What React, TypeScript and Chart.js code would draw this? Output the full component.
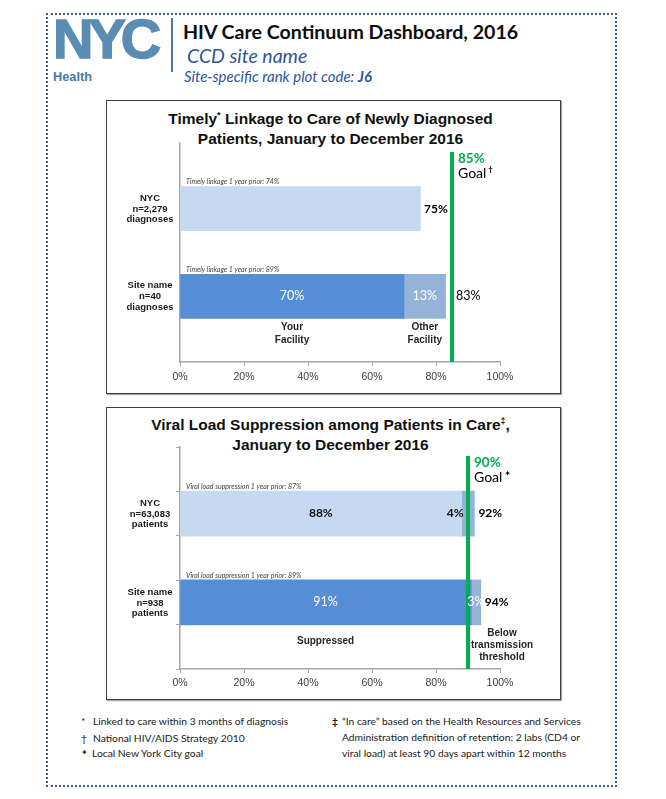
import React, { useEffect, useRef } from 'react';
import { Chart, registerables } from 'chart.js';
Chart.register(...registerables);

// ---------------- data ----------------
const xTickValues = [0, 20, 40, 60, 80, 100];
const rowPositions = [0, 1];
const yBoundaryTicks = [-0.75, -0.25, 0.25, 0.75, 1.25, 1.75];

// Chart 1: Timely linkage to care
const linkageRowLabels = [['NYC', 'n=2,279', 'diagnoses'], ['Site name', 'n=40', 'diagnoses']];
const linkageYourFacility = [75, 70];
const linkageOtherFacility = [0, 13];
const linkageTotals = [75, 83];
const linkagePriorYear = [74, 89];
const linkageGoal = 85;
const linkageSegmentNames = [['Your', 'Facility'], ['Other', 'Facility']];

// Chart 2: Viral load suppression
const suppressionRowLabels = [['NYC', 'n=63,083', 'patients'], ['Site name', 'n=938', 'patients']];
const suppressionSuppressed = [88, 91];
const suppressionBelowThreshold = [4, 3];
const suppressionTotals = [92, 94];
const suppressionPriorYear = [87, 89];
const suppressionGoal = 90;
const suppressionSegmentNames = [['Suppressed'], ['Below', 'transmission', 'threshold']];

// ---------------- styles ----------------
const GREEN = '#00b050';
const LIGHT = '#c6d9f1';
const DARK = '#558ed5';
const MID = '#95b3d7';
const AXIS = '#a6a6a6';
const BLUE_TEXT = '#2f5597';
const CAL = 'Lato, "Open Sans", sans-serif';
const ARIAL = '"Liberation Sans", Arial, sans-serif';

type SegName = { lines: string[]; at: 'seg1' | 'seg2' | 'end'; dy: number; lh: number };
type Spec = {
  rowLabels: string[][];
  seg1: number[];
  seg2: number[];
  totals: number[];
  prior: number[];
  priorText: string;
  goal: number;
  goalMark: string;
  seg1Colors: string[];
  seg2Colors: string[];
  innerFirstRow: boolean;
  totalBold: boolean[];
  segNames: SegName[];
  barThickness: number;
  yTickMarks: boolean;
  xAxisHeight: number;
  topPad: number;
  tickPadding: number;
};

const annotationPlugin = {
  id: 'annotations',
  afterDatasetsDraw(chart: any, _args: any, opts: any) {
    const spec: Spec = opts.spec;
    const { ctx, chartArea } = chart;
    const x = chart.scales.x;
    const y = chart.scales.y;
    ctx.save();
    const gx = x.getPixelForValue(spec.goal);
    ctx.strokeStyle = GREEN;
    ctx.lineWidth = 4;
    ctx.beginPath();
    ctx.moveTo(gx, chartArea.top + 9);
    ctx.lineTo(gx, chartArea.bottom);
    ctx.stroke();

    ctx.textBaseline = 'middle';
    ctx.textAlign = 'left';
    ctx.fillStyle = GREEN;
    ctx.font = `bold 13.5px ${CAL}`;
    ctx.fillText(`${spec.goal}%`, gx + 6, chartArea.top + 15.5);
    ctx.fillStyle = '#000';
    ctx.font = `14px ${CAL}`;
    ctx.fillText('Goal', gx + 6, chartArea.top + 30.5);
    const gw = ctx.measureText('Goal').width;
    ctx.font = `bold 8px ${CAL}, "DejaVu Sans"`;
    ctx.fillText(spec.goalMark, gx + 6 + gw + 2, chartArea.top + 26);

    const half = spec.barThickness / 2;
    const lastIdx = rowPositions.length - 1;
    rowPositions.forEach((row, i) => {
      const cy = y.getPixelForValue(row);
      ctx.fillStyle = '#1a1a1a';
      ctx.font = `bold 9.5px ${ARIAL}`;
      ctx.textAlign = 'center';
      const offs = [-10.5, 0.5, 11];
      spec.rowLabels[i].forEach((t, k) => ctx.fillText(t, chartArea.left - 30, cy + offs[k]));

      ctx.font = `italic 7px ${CAL}`;
      ctx.fillStyle = '#404040';
      ctx.textAlign = 'left';
      ctx.fillText(`${spec.priorText}${spec.prior[i]}%`, x.getPixelForValue(0) + 6, cy - half - 4.5);

      const s1 = spec.seg1[i];
      const s2 = spec.seg2[i];
      if (i > 0 || spec.innerFirstRow) {
        const dark = i === 0;
        ctx.fillStyle = dark ? '#111' : '#fff';
        ctx.font = dark ? `bold 12px ${CAL}` : `12.5px ${CAL}`;
        ctx.textAlign = 'center';
        ctx.fillText(`${s1}%`, x.getPixelForValue(s1 / 2), cy);
        if (s2 > 0) {
          if (dark) {
            ctx.textAlign = 'right';
            ctx.fillText(`${s2}%`, x.getPixelForValue(s1) + 2, cy);
          } else {
            ctx.fillText(`${s2}%`, x.getPixelForValue(s1 + s2 / 2), cy);
          }
        }
      }
      const endX = x.getPixelForValue(s1 + s2);
      ctx.fillStyle = '#000';
      ctx.font = spec.totalBold[i] ? `bold 12px ${CAL}` : `12.5px ${CAL}`;
      ctx.textAlign = 'left';
      const label = `${spec.totals[i]}%`;
      const lw = ctx.measureText(label).width;
      let tx = endX + 4;
      if (tx < gx + 4 && tx + lw > gx - 2) tx = gx + 4;
      ctx.fillText(label, tx, cy);
    });

    const lastCy = y.getPixelForValue(rowPositions[lastIdx]);
    ctx.font = `bold 10px ${ARIAL}`;
    ctx.fillStyle = '#262626';
    ctx.textAlign = 'center';
    spec.segNames.forEach((n) => {
      const s1 = spec.seg1[lastIdx];
      const s2 = spec.seg2[lastIdx];
      const v = n.at === 'seg1' ? s1 / 2 : n.at === 'seg2' ? s1 + s2 / 2 : x.max;
      const px = x.getPixelForValue(v) + (n.at === 'end' ? 2 : 0);
      n.lines.forEach((t, k) => ctx.fillText(t, px, lastCy + half + n.dy + k * n.lh));
    });
    ctx.restore();
  },
};

function buildConfig(spec: Spec): any {
  return {
    type: 'bar',
    data: {
      datasets: [
        {
          data: rowPositions.map((r, i) => ({ x: spec.seg1[i], y: r })),
          backgroundColor: spec.seg1Colors,
          barThickness: spec.barThickness,
          borderWidth: 0,
        },
        {
          data: rowPositions.map((r, i) => ({ x: spec.seg2[i], y: r })),
          backgroundColor: spec.seg2Colors,
          barThickness: spec.barThickness,
          borderWidth: 0,
        },
      ],
    },
    options: {
      indexAxis: 'y',
      responsive: false,
      animation: false,
      events: [],
      layout: { padding: { left: 74, right: 61, top: spec.topPad, bottom: 0 } },
      plugins: {
        legend: { display: false },
        tooltip: { enabled: false },
        title: { display: false },
        annotations: { spec },
      },
      scales: {
        x: {
          type: 'linear',
          min: 0,
          max: 100,
          stacked: true,
          offset: false,
          afterBuildTicks: (s: any) => {
            s.ticks = xTickValues.map((v) => ({ value: v }));
          },
          afterFit: (s: any) => {
            s.height = spec.xAxisHeight;
          },
          ticks: {
            callback: (v: any) => `${v}%`,
            font: { family: ARIAL, size: 10.5 },
            color: '#404040',
            padding: spec.tickPadding,
            maxRotation: 0,
            autoSkip: false,
          },
          grid: { offset: false, drawOnChartArea: false, drawTicks: true, tickLength: 4, color: AXIS },
          border: { display: true, color: AXIS, width: 1.5 },
        },
        y: {
          type: 'linear',
          reverse: true,
          min: -0.75,
          max: 1.75,
          stacked: true,
          offset: false,
          afterBuildTicks: (s: any) => {
            s.ticks = yBoundaryTicks.map((v) => ({ value: v }));
          },
          afterFit: (s: any) => {
            s.width = 0;
          },
          ticks: { display: false },
          grid: { offset: false, drawOnChartArea: false, drawTicks: spec.yTickMarks, tickLength: 4, color: AXIS },
          border: { display: true, color: AXIS, width: 1.5 },
        },
      },
    },
    plugins: [annotationPlugin],
  };
}

const linkageSpec: Spec = {
  rowLabels: linkageRowLabels,
  seg1: linkageYourFacility,
  seg2: linkageOtherFacility,
  totals: linkageTotals,
  prior: linkagePriorYear,
  priorText: 'Timely linkage 1 year prior: ',
  goal: linkageGoal,
  goalMark: '†',
  seg1Colors: [LIGHT, DARK],
  seg2Colors: [MID, MID],
  innerFirstRow: false,
  totalBold: [true, false],
  segNames: [
    { lines: linkageSegmentNames[0], at: 'seg1', dy: 9, lh: 13 },
    { lines: linkageSegmentNames[1], at: 'seg2', dy: 9, lh: 13 },
  ],
  barThickness: 44,
  yTickMarks: false,
  xAxisHeight: 32,
  topPad: 43,
  tickPadding: 5,
};

const suppressionSpec: Spec = {
  rowLabels: suppressionRowLabels,
  seg1: suppressionSuppressed,
  seg2: suppressionBelowThreshold,
  totals: suppressionTotals,
  prior: suppressionPriorYear,
  priorText: 'Viral load suppression 1 year prior: ',
  goal: suppressionGoal,
  goalMark: '✦',
  seg1Colors: [LIGHT, DARK],
  seg2Colors: [MID, MID],
  innerFirstRow: true,
  totalBold: [true, true],
  segNames: [
    { lines: suppressionSegmentNames[0], at: 'seg1', dy: 16, lh: 12 },
    { lines: suppressionSegmentNames[1], at: 'end', dy: 8, lh: 12 },
  ],
  barThickness: 45,
  yTickMarks: true,
  xAxisHeight: 31,
  topPad: 40,
  tickPadding: 4,
};

function ChartCanvas({ spec, left, top, width, height }: { spec: Spec; left: number; top: number; width: number; height: number }) {
  const ref = useRef<HTMLCanvasElement>(null);
  useEffect(() => {
    const chart = new Chart(ref.current as HTMLCanvasElement, buildConfig(spec));
    return () => chart.destroy();
  }, [spec]);
  return (
    <canvas
      ref={ref}
      width={width}
      height={height}
      style={{ position: 'absolute', left, top, width, height, display: 'block' }}
    />
  );
}

function Txt({ x, cy, size, style, children }: { x: number; cy: number; size: number; style?: React.CSSProperties; children: React.ReactNode }) {
  return (
    <div
      style={{
        position: 'absolute',
        left: x,
        top: cy - size * 0.6,
        fontSize: size,
        lineHeight: `${size * 1.2}px`,
        whiteSpace: 'nowrap',
        ...style,
      }}
    >
      {children}
    </div>
  );
}

function Box({ left, top, width, height }: { left: number; top: number; width: number; height: number }) {
  return (
    <div
      style={{
        position: 'absolute',
        left,
        top,
        width,
        height,
        boxSizing: 'border-box',
        border: '1.5px solid #404040',
        boxShadow: '1px 1px 1px rgba(0,0,0,0.35)',
      }}
    />
  );
}

const supStyle: React.CSSProperties = { fontSize: 9, position: 'relative', top: -6 };

export default function App() {
  return (
    <div
      style={{
        position: 'absolute',
        left: 0,
        top: 0,
        width: 666,
        height: 799,
        background: '#fff',
        overflow: 'hidden',
        fontFamily: CAL,
        color: '#111',
      }}
    >
      {/* dotted frame */}
      <div
        style={{
          position: 'absolute',
          left: 46,
          top: 13,
          width: 571,
          height: 774,
          boxSizing: 'border-box',
          border: '2px dotted #3b5e9c',
        }}
      />
      {/* logo */}
      <div
        style={{
          position: 'absolute',
          left: 53,
          top: 10.7,
          fontFamily: ARIAL,
          fontWeight: 'bold',
          fontSize: 56,
          lineHeight: '56px',
          letterSpacing: -5,
          color: '#5b8db3',
          WebkitTextStroke: '1.5px #5b8db3',
        }}
      >
        NYC
      </div>
      <Txt x={53} cy={77} size={12.8} style={{ fontFamily: ARIAL, fontWeight: 'bold', color: '#4a7ba5' }}>
        Health
      </Txt>
      <div style={{ position: 'absolute', left: 171, top: 18, width: 2, height: 54, background: '#4a7ba5' }} />
      <Txt x={183} cy={32} size={19.6} style={{ fontWeight: 'bold', color: '#0d0d0d' }}>
        HIV Care Continuum Dashboard, 2016
      </Txt>
      <Txt x={187} cy={56} size={19.5} style={{ fontStyle: 'italic', color: BLUE_TEXT }}>
        CCD site name
      </Txt>
      <Txt x={184} cy={76} size={15} style={{ fontStyle: 'italic', color: BLUE_TEXT }}>
        Site-specific rank plot code: <b>J6</b>
      </Txt>

      {/* chart 1 */}
      <Box left={106} top={100} width={455} height={294} />
      <div
        style={{
          position: 'absolute',
          left: 106,
          top: 110,
          width: 449,
          textAlign: 'center',
          fontFamily: ARIAL,
          fontWeight: 'bold',
          fontSize: 15.5,
          lineHeight: '18px',
          color: '#111',
        }}
      >
        <div>
          Timely<span style={supStyle}>*</span> Linkage to Care of Newly Diagnosed
        </div>
        <div>Patients, January to December 2016</div>
      </div>
      <ChartCanvas spec={linkageSpec} left={106} top={100} width={455} height={294} />

      {/* chart 2 */}
      <Box left={106} top={407} width={455} height={293} />
      <div
        style={{
          position: 'absolute',
          left: 106,
          top: 416,
          width: 449,
          textAlign: 'center',
          fontFamily: ARIAL,
          fontWeight: 'bold',
          fontSize: 15.5,
          lineHeight: '18px',
          color: '#111',
        }}
      >
        <div>
          Viral Load Suppression among Patients in Care<span style={supStyle}>‡</span>,
        </div>
        <div>January to December 2016</div>
      </div>
      <ChartCanvas spec={suppressionSpec} left={106} top={407} width={455} height={293} />

      {/* footnotes */}
      <Txt x={81} cy={721} size={10.3} style={{ color: '#1a1a1a' }}>*</Txt>
      <Txt x={93} cy={721} size={10.3} style={{ color: '#1a1a1a' }}>Linked to care within 3 months of diagnosis</Txt>
      <Txt x={81} cy={738} size={10.3} style={{ color: '#1a1a1a' }}>†</Txt>
      <Txt x={93} cy={738} size={10.3} style={{ color: '#1a1a1a' }}>National HIV/AIDS Strategy 2010</Txt>
      <Txt x={81} cy={753} size={8} style={{ color: '#1a1a1a', fontFamily: '"DejaVu Sans", sans-serif' }}>✦</Txt>
      <Txt x={92} cy={753} size={10.3} style={{ color: '#1a1a1a' }}>Local New York City goal</Txt>

      <Txt x={332} cy={721} size={10.3} style={{ color: '#1a1a1a', fontWeight: 'bold' }}>‡</Txt>
      <Txt x={342} cy={721} size={10.3} style={{ color: '#1a1a1a' }}>“In care” based on the Health Resources and Services</Txt>
      <Txt x={342} cy={737} size={10.3} style={{ color: '#1a1a1a' }}>Administration definition of retention: 2 labs (CD4 or</Txt>
      <Txt x={342} cy={753} size={10.3} style={{ color: '#1a1a1a' }}>viral load) at least 90 days apart within 12 months</Txt>
    </div>
  );
}
